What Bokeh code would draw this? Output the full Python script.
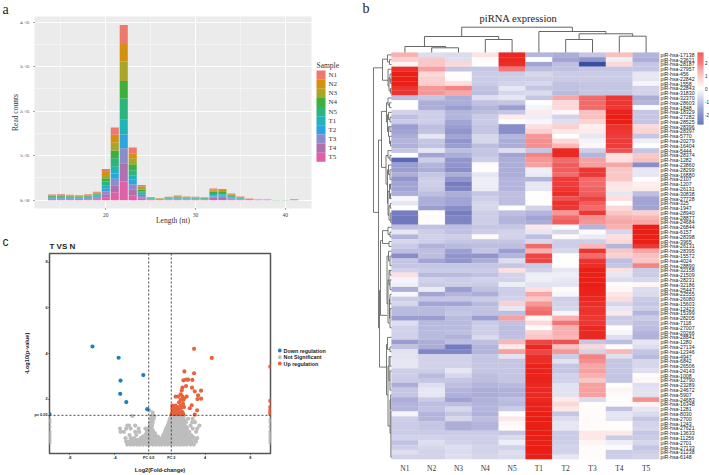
from bokeh.plotting import figure
from bokeh.models import ColumnDataSource, FixedTicker, Span, LinearColorMapper
from bokeh.transform import transform
from bokeh.core.properties import value
from bokeh.embed import file_html
from bokeh.resources import INLINE

SERIF = "Liberation Serif"
SANS = "Liberation Sans"

# ---------- panel a: read-length distribution (thousand reads) ----------
lengths = list(range(14, 42))
samples = ["N1", "N2", "N3", "N4", "N5", "T1", "T2", "T3", "T4", "T5"]
sample_colors = ["#F0776E", "#D4900F", "#A8A528", "#3DB03C", "#2BB57C",
                 "#1FB5B8", "#2BA4E0", "#8C8CC8", "#B070B0", "#E060A8"]
N1 = [1.3,1.3,1.1,1.0,1.2,1.3,6.8,16.5,42.7,12.7,3.6,.6,.4,.7,1.0,.8,.7,.6,2.5,2.3,1.4,.7,.3,.1,.1,.1,.1,.3]
N2 = [1.2,1.2,1.0,1.0,1.2,1.4,7.0,17.2,39.7,11.2,3.5,.6,.4,.7,1.0,.8,.7,.6,2.4,2.3,1.4,.7,.3,.1,.2,.1,.1,.3]
N3 = [1.3,1.3,1.1,1.0,1.3,1.5,7.2,18.0,43.4,13.5,3.7,.6,.4,.7,1.1,.8,.7,.6,2.4,2.4,1.4,.8,.3,.2,.1,.1,.1,.3]
N4 = [1.3,1.4,1.2,1.1,1.4,1.9,7.4,17.2,39.7,13.5,3.5,.7,.4,.7,1.0,.8,.7,.7,2.5,2.5,1.5,.8,.4,.1,.2,.1,.1,.2]
N5 = [1.4,1.4,1.2,1.2,1.4,2.0,8.2,19.5,47.9,11.2,3.4,.7,.5,.8,1.1,.9,.8,.7,2.7,2.6,1.6,.9,.4,.2,.1,.1,.1,.2]
T1 = [1.4,1.4,1.3,1.2,1.4,1.9,7.0,15.0,33.0,10.5,3.4,.7,.5,.8,1.1,.9,.8,.7,2.8,2.7,1.6,.9,.4,.2,.2,.1,.0,.2]
T2 = [1.4,1.4,1.3,1.2,1.4,2.0,7.0,12.0,30.7,10.5,3.6,.7,.5,.8,1.1,.9,.8,.7,2.9,2.8,1.6,.9,.4,.2,.2,.0,.0,.2]
T3 = [1.3,1.3,1.3,1.2,1.4,2.1,6.0,15.7,33.7,10.5,3.0,.7,.5,.8,1.0,.8,.8,.7,2.7,2.7,1.5,.9,.4,.1,.1,.0,.0,.2]
T4 = [1.2,1.2,1.2,1.2,1.4,2.3,6.8,14.2,41.2,13.5,3.2,.8,.5,.8,1.1,.9,.8,.7,2.7,2.6,1.5,.8,.4,.1,.1,.0,.0,.2]
T5 = [1.2,1.2,1.3,1.2,1.4,2.3,6.8,18.0,41.9,11.2,3.4,.8,.4,.8,1.2,.8,.7,.6,2.6,2.5,1.5,.8,.4,.1,.1,.0,.0,.1]

# ---------- panel c: volcano ----------
down_x = [-5.99,-3.67,-3.50,-3.53,-2.99,-1.48,-1.13,-9.8]
down_y = [4.31,3.82,2.82,2.24,1.88,3.06,1.57,1.35]
up_x = [3.02,4.59,2.16,3.02,9.78,9.78,9.78,9.78,9.78,9.78,2.07,2.31,2.49,2.87,2.31,1.99,1.93,2.84,3.08,3.64,
        3.38,3.32,3.64,2.64,2.81,3.29,3.08,1.39,1.6,1.84,1.99,2.37,2.13,1.84,2.07,1.69,2.04,1.84,1.1,1.39,
        1.54,1.1,1.3,1.54,1.84,2.13,1.1,1.24,1.39,1.54,1.75,1.99,1.19,1.33,1.54,1.84,2.07,1.04]
up_y = [4.21,3.81,3.22,3.14,3.43,1.93,1.66,1.54,1.43,1.35,2.83,2.86,2.86,2.85,2.58,2.51,2.39,2.51,2.35,2.38,
        2.17,2.01,2.03,1.61,1.74,1.52,1.33,2.12,2.12,2.22,2.12,2.12,2.04,1.98,1.97,1.87,1.8,1.73,1.73,1.73,
        1.66,1.59,1.59,1.56,1.59,1.66,1.44,1.44,1.44,1.44,1.44,1.44,1.35,1.35,1.35,1.35,1.35,1.37]
ns_levels = [0.02,0.15,0.3,0.44,0.58,0.72,0.85,1.0,1.15,1.27,1.42,1.52,
             0.09,0.23,0.37,0.51,0.65,0.79,0.92,1.08,1.21]
ns_x_by_level = [
    [-2.9,-2.6,-2.35,-2.05,-1.8,-1.5,-1.2,-0.95,-0.65,-0.4,-0.1,0.15,0.45,0.7,1.0,1.25,1.55,1.8,2.1,2.35,2.7,3.0],
    [-3.0,-2.7,-2.4,-2.2,-1.9,-1.6,-1.3,-1.05,-0.8,-0.5,-0.2,0.05,0.3,0.6,0.85,1.15,1.4,1.7,1.95,2.25,2.5,2.8,3.2],
    [-3.05,-2.6,-2.3,-1.7,-1.4,-1.1,-.85,-.6,-.3,-.1,.2,.4,.7,1.0,1.25,1.5,1.8,2.0,2.3,2.6,3.0,3.3],
    [-2.7,-2.1,-1.3,-1.0,-.75,-.5,.3,.55,.8,1.1,1.35,1.6,1.9,2.2,2.45,2.75],
    [-3.5,-3.2,-2.2,-1.85,-1.1,-.85,-.6,.45,.7,.95,1.2,1.45,1.75,2.05,2.3,2.6,3.2],
    [-3.55,-3.0,-2.6,-1.9,-1.3,-1.0,-.75,.55,.8,1.05,1.3,1.6,1.9,2.1,2.4,2.9,3.3],
    [-2.9,-2.75,-2.2,-.9,-.7,.7,.95,1.2,1.5,1.8,2.2,2.7,3.5],
    [-.85,-.65,.8,1.05,1.3,1.6,1.9,2.3,2.85,3.1],
    [-.8,-.55,.9,1.15,1.4,1.7,2.0,2.5,2.9],
    [-2.45,-.75,-.5,1.0,1.25,1.5,1.8,2.1],
    [-.65],
    [-.95],
    [-2.75,-2.45,-2.2,-1.95,-1.7,-1.4,-1.15,-.9,-.6,-.35,-.05,.2,.5,.8,1.1,1.35,1.65,1.9,2.2,2.5,2.85],
    [-2.5,-2.1,-1.85,-1.55,-1.25,-1,-.7,-.4,-.15,.1,.35,.65,.9,1.2,1.45,1.75,2.05,2.35,2.7,3.1],
    [-1.5,-1.2,-.9,-.65,-.4,-.2,.25,.45,.75,1.05,1.3,1.55,1.85,2.1,2.4,2.65,2.9],
    [-1.2,-.95,-.7,-.45,.4,.65,.9,1.15,1.4,1.7,2.0,2.2,2.5],
    [-1.15,-.9,-.65,.5,.75,1.0,1.25,1.5,1.8,2.0,2.3],
    [-.8,.65,.9,1.15,1.4,1.7,1.95,2.35],
    [-.75,.75,1.0,1.3,1.6,1.85,2.1],
    [-.7,.85,1.1,1.35,1.65,1.95,2.2],
    [.95,1.2,1.45,1.75,2.05],
]
ns_edge_y = [.1,.2,.3,.4,.5,.6,.8,1.0,1.1]

# ---------- panel b: heat map ----------
pir_ids = [17138,23621,28187,27957,456,22842,1558,22843,31830,
           32370,28603,1848,18329,27282,28525,28396,28397,5770,20279,16404,5444,28374,1282,23860,28299,16880,2107,1207,26131,30838,27728,325,1947,28940,28877,24684,
           26844,6157,28398,3965,26131,28395,15572,4024,28890,32158,21509,28231,32186,25447,22555,26080,15603,12423,15399,28205,7118,27007,20266,28841,
           1280,27134,12346,4947,6842,26506,24143,1008,12790,23289,24672,5907,24683,16348,1281,8030,2700,1243,27621,13633,11256,2701,27133,31238,6148]
cluster_1 = [
 [1.0,-.4,-.45,.35,2.6,-.9,-1.0,-.7,.8,-.9],
 [.6,.7,-.4,.05,2.6,0,-1.1,-1.3,-.2,-1.0],
 [.15,.7,.5,0,2.5,-1.1,-.8,-2.5,.5,-.7],
 [2.5,1.2,-.7,-.7,1.6,-.8,-.75,-.7,-.7,-.7],
 [2.8,.5,0,-.65,-.65,-.5,-.65,-.65,-.65,-.3],
 [2.8,.6,.05,-.65,-.6,-.6,-.65,-.65,-.65,-.3],
 [2.8,.65,.4,-.65,-.55,-.5,-.75,-.7,-.7,-.15],
 [2.4,1.3,1.5,-.75,-.3,-.7,-.75,-.7,-.7,-.55],
 [2.4,1.3,1.1,-.8,-.5,-.45,-.85,-.7,-.7,-.55],
]
cluster_2 = [
 [-.8,-.7,-1.0,-.4,-.3,-.7,1.1,1.7,2.3,-1.0],
 [0,-1,-1,-.75,-.7,0,.5,1.7,2.3,-.9],
 [0,-1,-1.2,-.9,-1.2,-.15,.5,1.7,2.3,-.05],
 [-.55,-.6,-.9,-.8,-.7,.25,.1,.8,2.7,-.7],
 [-.8,-.6,-.9,-.65,.25,-.2,-.55,.8,2.8,-.7],
 [-.65,-.6,-1.1,-.65,0,-.1,-.4,.55,2.8,-.7],
 [-1.2,-.8,-1.2,-.7,-1.4,.4,.6,.2,2.4,.5],
 [-1.1,-.75,-1.3,-.7,-1.4,.6,.3,.25,2.3,.55],
 [-1,-.3,-1.1,-.5,-.9,1.3,0,-.3,2.2,-.7],
 [-.9,-.7,-1.3,-.5,-1.0,1.4,.5,-.15,2.2,-.2],
 [-.95,-.75,-1.2,-.8,-1.0,1.4,.9,.1,2.2,0],
 [-.7,-.3,-.8,-.7,-.4,-.7,2.6,-.6,1.9,-.7],
 [0,-1.1,-1,-.7,-1.1,1.5,2.6,-.9,.4,.7],
 [-2.0,-.6,-1.3,-.6,-1.0,1.3,1.7,1.2,.4,.8],
 [-1.2,-.9,-1.3,.05,-1.0,1.2,1.8,1.2,1.1,-1.4],
 [-1.2,-1,-1.4,0,-1,-.2,1.8,2.3,.7,-.3],
 [-1,-.7,-1,-.3,-1,-.25,1.7,2.3,.7,-.3],
 [-1.3,-.6,-1.3,-.2,-.9,-.9,2.2,1.7,.7,0],
 [-1.1,-.6,-1.6,-.2,-.9,-.3,2.2,1.7,.35,.2],
 [-1.1,-.65,-1.5,-.25,-.9,-.3,2.3,1.75,.3,.25],
 [-1,-.8,-1,-.7,-.8,0,2.5,1.8,-.3,-.8],
 [-.1,-1,-1.1,-.6,-.8,0,1.9,2.1,.4,-1.1],
 [-.3,-1,-1.1,-.5,-.8,0,2.4,1.8,0,-1.1],
 [0,-1.2,-1.4,-.5,0,-.55,2.3,1.7,.5,-1.1],
 [-1.6,0,-1.6,-.6,-.8,-.9,1.3,2.3,.7,.6],
 [-1.7,.05,-1.5,-.6,-.9,-1.1,1.7,1.4,1.0,.9],
 [-1.7,0,-1.5,-.6,-.9,-1.0,1.8,1.3,1.1,1.1],
]
cluster_3 = [
 [-.8,-.75,-.8,-.7,-.7,.3,0,-.9,1.0,2.8],
 [-.3,-.6,-.75,-.6,-.55,-.3,-.5,.05,-.5,2.8],
 [-.9,-.55,-.6,.05,-.55,-.8,.05,-.25,.4,2.8],
 [-.5,-.6,-.7,-.7,-.7,-.5,-.6,-.6,.5,2.8],
 [-.65,-.95,-.85,-.8,-.8,1.7,-.6,.9,-.9,2.3],
 [-.8,-.8,-1.2,-.7,-1.2,1.0,-.5,2.4,.7,1.1],
 [-1.4,-.8,-1.3,-1.3,-.9,2.0,0,1.7,.6,.8],
 [-.7,-1.1,-1.3,-1.0,-.4,2.0,0,2.4,-.8,.7],
 [-.7,-.7,-.7,-.7,-.7,-.65,.05,2.5,-.7,1.5],
 [-.55,-.65,-.65,-.65,.4,-.55,-.3,2.8,.4,-.65],
 [.4,-.85,-.85,-.75,-.55,-.2,-.2,2.8,-.3,-.65],
 [-.15,-.55,-.6,-.55,-.55,-.2,-.3,2.8,-.45,-.5],
 [-.2,-.65,-.6,-.65,-.2,-.35,-.35,2.8,.05,.1],
 [-1,-.25,-1.2,-.75,-.6,.4,.05,2.75,.1,-.4],
 [-.1,-1.1,-.9,-1,-.6,1.1,-.1,2.7,.3,-.45],
 [-.65,-.7,-.7,-.65,-.55,.7,-.6,2.6,.45,-.65],
 [-.5,-1.1,-1.1,-.85,.6,1.3,-.55,2.5,-.5,-.7],
 [-.85,-.85,-.75,-.75,-.3,1.6,-.5,2.4,-.3,-.6],
 [-.85,-.85,-.7,-.75,-.8,1.7,-.15,2.4,.3,-.9],
 [-1.2,-1.2,-.85,-1.2,1.2,.1,1.0,2.3,-.65,-.65],
 [-.4,-.85,-.85,-.65,-.75,.5,1.6,2.3,-.6,-.75],
 [-.55,-.85,-.85,-.6,-.8,.05,1.0,2.6,.05,-.8],
 [-.55,-.85,-.8,-.6,-.8,.6,1.0,2.6,-.1,-.9],
 [-.55,-.85,-.95,-.45,-.75,.7,.9,2.6,-.4,-.95],
]
cluster_4 = [
 [-1.2,-1.0,-.8,-.8,.9,2.0,1.9,-.7,-.8,-.3],
 [-.75,-1.0,-1.6,-.9,.25,2.6,.8,.5,0,-.4],
 [-.35,-1.5,-1.5,-.9,1.2,2.0,1.3,-.55,.9,-.7],
 [-.35,-.55,-.55,-.7,-.35,2.5,-.65,1.5,-.4,-.85],
 [-.3,-.55,-.55,-.7,-.7,2.5,-.35,1.4,-.7,-.5],
 [-.3,-.55,-.55,-.7,-.7,2.7,-.7,1.1,-.7,-.5],
 [-.6,-.6,-.3,-.7,-.7,2.7,-.7,1.2,-.7,-.4],
 [-.6,-.85,-.5,-.8,-.7,2.7,-.55,1.0,-.7,.05],
 [-.65,-.7,-.7,-.8,-.7,2.7,-.55,.7,-.7,.1],
 [-1,-.4,-.8,-.9,-.85,2.6,-.35,1.2,0,-.4],
 [-.7,-.3,-.9,-1,-.95,2.6,-.35,1.2,.15,-.35],
 [-.7,-.3,-.95,-1,-.95,2.6,-.35,1.2,.05,-.35],
 [-1,-.65,-1.15,-.95,-.8,2.6,.25,-.45,.03,1.4],
 [-.9,-.8,-.8,-.9,-.85,2.7,.5,.03,.03,.15],
 [-.9,-.75,-.5,-.9,-.65,2.7,.3,.05,-.75,-.3],
 [-.15,-.9,-.7,-.95,0,2.8,-.7,.05,-.3,-.45],
 [-.6,-.9,-.5,-.8,.3,2.8,-.45,.05,-.35,-.7],
 [-.65,-.7,-1,-.9,.1,2.8,-.3,.05,.03,-.55],
 [-.65,-.7,-1,-.9,.05,2.8,-.3,.05,.03,-.5],
 [-.65,-.65,-.65,-.65,-.7,2.8,-.65,.3,.3,-.7],
 [-.55,-.55,-.6,-.6,-.45,2.8,-.65,.3,-.65,-.65],
 [-.75,-.4,-.55,-.6,-.2,2.8,-.6,.15,-.2,-.5],
 [-.6,-.5,-.4,-.55,-.55,2.8,-.55,.05,-.05,-.7],
 [-.4,-.55,-.45,-.55,-.4,2.8,-.55,.05,-.65,-.6],
 [-.55,-.55,-.4,-.5,-.45,2.8,-.3,.05,-.6,-.55],
]
# dendrogram brackets: height, branch a position, branch b position, child height a, child height b
col_tree = [
 (25.3,2.62,6.75,16,21),(16,1.23,4.0,6,13),(6,.5,2.02,0,4.7),(4.7,1.5,2.5,0,0),(13,3.5,4.5,0,0),
 (21,5.5,8.0,0,18.7),(18.7,7.0,9.0,13,16.3),(13,6.5,7.5,0,0),(16.3,8.5,9.5,0,0),
]
row_tree = [
 (18,2.7,32.9,9,13),(9,.9,5.3,4,3.5),(4,0,1.5,0,2),(2,1,2,0,0),(3.5,3,6.5,0,2.5),(2.5,4.8,7.5,1.5,1),
 (1.5,4,5.5,0,.8),(.8,5,6,0,0),(1,7,8,0,0),
 (13,17.8,57,10,12),(10,11.8,23.5,5,5.5),(5,10,14,3.5,4),(3.5,9,10.5,0,2),(2,10,11,0,0),(4,12.5,16,3,3),
 (3,12,13.5,0,1.5),(1.5,13,14,0,0),(3,15,17,1.5,2),(1.5,15,16,0,0),(2,17,18.5,0,1),(1,18,19,0,0),
 (5.5,21,27,3.5,4),(3.5,20,21.5,0,1.5),(1.5,21,22,0,0),(4,24,31,3,3.5),(3,23,25,0,1.5),(1.5,24,26,0,0),
 (3.5,28.5,33.5,2,2.5),(2,27,30,1,1),(1,27,28,0,0),(1,29,30,0,0),(2.5,31.5,34.5,1.2,.8),(1.2,31,32,0,0),(.8,33,35,0,0),
 (12,49.2,65.2,11,5),(11,38.8,54.4,9,4.5),(9,36.7,39.4,3.5,2.5),(3.5,36,37.5,0,1.5),(1.5,37,38,0,0),(2.5,39,40,0,0),
 (4.5,42,52,3,3.5),(3,41,43,0,1.5),(1.5,42,44,0,0),(3.5,47,56,2.5,2),(2.5,45,48,1.5,1.5),(1.5,45,46,0,0),(1.5,47,49,0,0),
 (2,51,55,1.5,1.5),(1.5,50,52,0,0),(1.5,53,57,0,0),
 (5,60.5,71,4,3.5),(4,59,61.5,0,1.5),(1.5,61,62,0,0),(3.5,65,77.5,2.5,1.5),(2.5,63,68,1.5,1.5),(1.5,63,65,0,0),(1.5,66,70,0,0),
 (1.5,72,79,.8,.6),(.8,71,74,0,0),(.6,74.5,84,0,0),
]
color_stops = [(-2.8,(35,64,154)),(-1.6,(120,125,192)),(-.5,(215,215,236)),(0,(255,255,255)),
               (.5,(252,216,216)),(1.4,(245,144,144)),(2.0,(238,70,70)),(2.8,(234,32,23))]


def at(left, top):
    return {"position": "absolute", "left": f"{left}px", "top": f"{top}px"}


# ========== a ==========
pa = figure(width=350, height=235, output_backend="svg", toolbar_location=None,
            x_range=(12.05, 42.93), y_range=(-18700, 412800),
            min_border_left=34, min_border_right=39, min_border_top=16, min_border_bottom=27,
            background_fill_color="#EBEBEB", outline_line_color=None, styles=at(0, 0))
series = dict(zip(samples, [N1, N2, N3, N4, N5, T1, T2, T3, T4, T5]))
src_a = ColumnDataSource({"len": lengths, **{k: [v * 1000 for v in vals] for k, vals in series.items()}})
# ggplot stacks the first sample on top
pa.vbar_stack(samples[::-1], x="len", width=0.9, color=sample_colors[::-1], source=src_a, line_width=0)
pa.xaxis.ticker = FixedTicker(ticks=[20, 30, 40], minor_ticks=[15, 25, 35])
pa.yaxis.ticker = FixedTicker(ticks=[0, 100000, 200000, 300000, 400000], minor_ticks=[50000, 150000, 250000, 350000])
pa.yaxis.major_label_overrides = {0: "0e+00", 100000: "1e+05", 200000: "2e+05", 300000: "3e+05", 400000: "4e+05"}
for g in (pa.xgrid[0], pa.ygrid[0]):
    g.grid_line_color = "white"
    g.grid_line_width = 0.9
    g.minor_grid_line_color = "white"
    g.minor_grid_line_width = 0.4
for ax, lab in ((pa.xaxis[0], "Length (nt)"), (pa.yaxis[0], "Read counts")):
    ax.axis_label = lab
    ax.axis_label_text_font = SERIF
    ax.axis_label_text_font_style = "normal"
    ax.axis_label_text_font_size = "7.5px"
    ax.axis_label_text_color = "#333333"
    ax.axis_label_standoff = 2
    ax.axis_line_color = None
    ax.major_tick_line_color = "#555555"
    ax.major_tick_out = 1
    ax.major_tick_in = 0
    ax.minor_tick_line_color = None
    ax.major_label_text_font = SERIF
    ax.major_label_text_color = "#444444"
    ax.major_label_standoff = 1
pa.xaxis.major_label_text_font_size = "5.5px"
pa.xaxis.major_label_standoff = 0
pa.yaxis.major_label_text_font_size = "3.8px"
pa.xaxis.axis_label_standoff = -4
pa.yaxis.axis_label_standoff = -3

# ========== c ==========
pc = figure(width=350, height=240, output_backend="svg", toolbar_location=None,
            x_range=(-9.8, 9.8), y_range=(-0.37, 8.38),
            min_border_left=49, min_border_right=80, min_border_top=18, min_border_bottom=16,
            outline_line_color="#555555", outline_line_width=1.5, styles=at(0, 235))
pc.grid.visible = False
ns_x = [x for xs in ns_x_by_level for x in xs] + [-9.8] * len(ns_edge_y) + [9.8] * len(ns_edge_y)
ns_y = [lv for lv, xs in zip(ns_levels, ns_x_by_level) for _ in xs] + ns_edge_y + ns_edge_y
pc.scatter(ns_x, ns_y, size=4.2, color="#BDBDBD", line_width=0)
pc.scatter(up_x, up_y, size=4.2, color="#E8633A", line_width=0)
pc.scatter(down_x, down_y, size=4.2, color="#1F7FB8", line_width=0)
for sp in (Span(location=-1, dimension="height"), Span(location=1, dimension="height"), Span(location=1.3, dimension="width")):
    sp.line_color = "#333333"
    sp.line_dash = "2 2"
    sp.line_width = 0.9
    pc.add_layout(sp)
pc.xaxis.ticker = FixedTicker(ticks=[-8, -4, -1, 1, 4, 8])
pc.xaxis.major_label_overrides = {-8: "-8", -4: "-4", -1: "FC 0.5", 1: "FC 2", 4: "4", 8: "8"}
pc.yaxis.ticker = FixedTicker(ticks=[1.3, 2, 4, 6, 8])
pc.yaxis.major_label_overrides = {1.3: "p= 0.05", 2: "2", 4: "4", 6: "6", 8: "8"}
for ax, lab in ((pc.xaxis[0], "Log2(Fold-change)"), (pc.yaxis[0], "-Log10(p-value)")):
    ax.axis_label = lab
    ax.axis_label_text_font = SANS
    ax.axis_label_text_font_style = "bold"
    ax.axis_label_text_font_size = "5.6px"
    ax.axis_label_text_color = "#222222"
    ax.axis_label_standoff = 4
    ax.axis_line_color = None
    ax.major_tick_line_color = "#333333"
    ax.major_tick_out = 1
    ax.major_tick_in = 0
    ax.minor_tick_line_color = None
    ax.major_label_text_font = SANS
    ax.major_label_text_font_style = "bold"
    ax.major_label_text_font_size = "3.8px"
    ax.major_label_text_color = "#222222"
    ax.major_label_standoff = 1
pc.yaxis.axis_label_standoff = 2

# ========== b ==========
all_rows = cluster_1 + cluster_2 + cluster_3 + cluster_4
n_rows = len(all_rows)
pb = figure(width=359, height=475, output_backend="svg", toolbar_location=None,
            x_range=(-19 / 26.8, 10), y_range=(n_rows, -28 / 4.79),
            y_axis_location="right",
            min_border_left=22, min_border_right=50, min_border_top=24, min_border_bottom=16,
            outline_line_color=None, styles=at(350, 0))
pb.grid.visible = False


def ramp(n=256):
    out = []
    lo, hi = color_stops[0][0], color_stops[-1][0]
    for i in range(n):
        v = lo + (hi - lo) * i / (n - 1)
        for (a, ca), (b, cb) in zip(color_stops, color_stops[1:]):
            if a <= v <= b:
                t = (v - a) / (b - a)
                c = [round(p + (q - p) * t) for p, q in zip(ca, cb)]
                out.append("#%02X%02X%02X" % tuple(c))
                break
    return out


palette = ramp()
mapper = LinearColorMapper(palette=palette, low=-2.8, high=2.8)
cell_x, cell_y, cell_v = [], [], []
for r, vals in enumerate(all_rows):
    for c, v in enumerate(vals):
        cell_x.append(c + 0.5)
        cell_y.append(r + 0.5)
        cell_v.append(v)
pb.rect("x", "y", width=1, height=1, source=ColumnDataSource({"x": cell_x, "y": cell_y, "v": cell_v}),
        fill_color=transform("v", mapper), line_color=transform("v", mapper), line_width=0.2)

top_x, top_y = [], []
for h, a, b, ha, hb in col_tree:
    top_x.append([a, a, b, b])
    top_y.append([-ha / 4.79, -h / 4.79, -h / 4.79, -hb / 4.79])
pb.multi_line(top_x, top_y, line_color="#555555", line_width=0.9)
left_x, left_y = [], []
for h, a, b, ha, hb in row_tree:
    left_x.append([-ha / 26.8, -h / 26.8, -h / 26.8, -hb / 26.8])
    left_y.append([a + .5, a + .5, b + .5, b + .5])
pb.multi_line(left_x, left_y, line_color="#555555", line_width=0.8)

pb.xaxis.ticker = FixedTicker(ticks=[c + 0.5 for c in range(10)])
pb.xaxis.major_label_overrides = {c + 0.5: s for c, s in enumerate(samples)}
pb.xaxis.major_label_text_font = SERIF
pb.xaxis.major_label_text_font_size = "7.5px"
pb.xaxis.major_label_text_color = "#333333"
pb.yaxis.ticker = FixedTicker(ticks=[r + 0.5 for r in range(n_rows)])
pb.yaxis.major_label_overrides = {r + 0.5: f"piR-hsa-{i}" for r, i in enumerate(pir_ids)}
pb.yaxis.major_label_text_font = SANS
pb.yaxis.major_label_text_font_size = "5.2px"
pb.yaxis.major_label_text_color = "#222222"
pb.yaxis.major_label_standoff = 1
for ax in (pb.xaxis[0], pb.yaxis[0]):
    ax.axis_line_color = None
    ax.major_tick_line_color = None
    ax.minor_tick_line_color = None
    ax.major_tick_out = 0
    ax.major_tick_in = 0
pb.xaxis.major_label_standoff = 4

# ========== page-level overlay: panel letters, titles, legends, colour key ==========
pt = figure(width=709, height=475, output_backend="svg", toolbar_location=None,
            x_range=(0, 709), y_range=(475, 0), min_border=0, outline_line_color=None,
            background_fill_alpha=0, border_fill_alpha=0, x_axis_type=None, y_axis_type=None,
            styles=at(0, 0))
pt.grid.visible = False


def put(x, y, txt, size, font=SERIF, style="normal", align="left", color="#222222"):
    pt.text([x], [y], text=[txt], text_font=value(font), text_font_size=value(size), text_font_style=style,
            text_align=align, text_baseline="middle", text_color=color)


put(2, 9, "a", "14px")
put(362, 8, "b", "14px")
put(2, 241, "c", "12px", SANS)
put(49, 246, "T VS N", "8px", SANS, "bold")
put(518, 18, "piRNA expression", "10.5px", align="center")
put(316, 64.7, "Sample", "7.5px", color="#333333")
for i, s in enumerate(samples):
    pt.quad(left=[316], right=[325], top=[70 + i * 9.13], bottom=[70 + (i + 1) * 9.13], color=sample_colors[i], line_width=0)
    put(328, 74.6 + i * 9.13, s, "7px", color="#333333")
for lab, col, y in (("Down regulation", "#1F7FB8", 350), ("Not Significant", "#BDBDBD", 356.7), ("Up regulation", "#E8633A", 363)):
    pt.scatter([279.3], [y], size=3.8, color=col, line_width=0)
    put(283, y, lab, "5.4px", SANS, "bold")
key_top = 52
key_h = 72 / len(palette)
pt.quad(left=697, right=703, top=[key_top + (len(palette) - 1 - i) * key_h for i in range(len(palette))],
        bottom=[key_top + (len(palette) - i) * key_h for i in range(len(palette))], color=palette, line_width=0)
for v in (-2, -1, 0, 1, 2):
    put(704.5, 88 - v * 13, str(v), "4.5px", SANS)

open("out.html", "w").write(file_html([pa, pc, pb, pt], INLINE))
